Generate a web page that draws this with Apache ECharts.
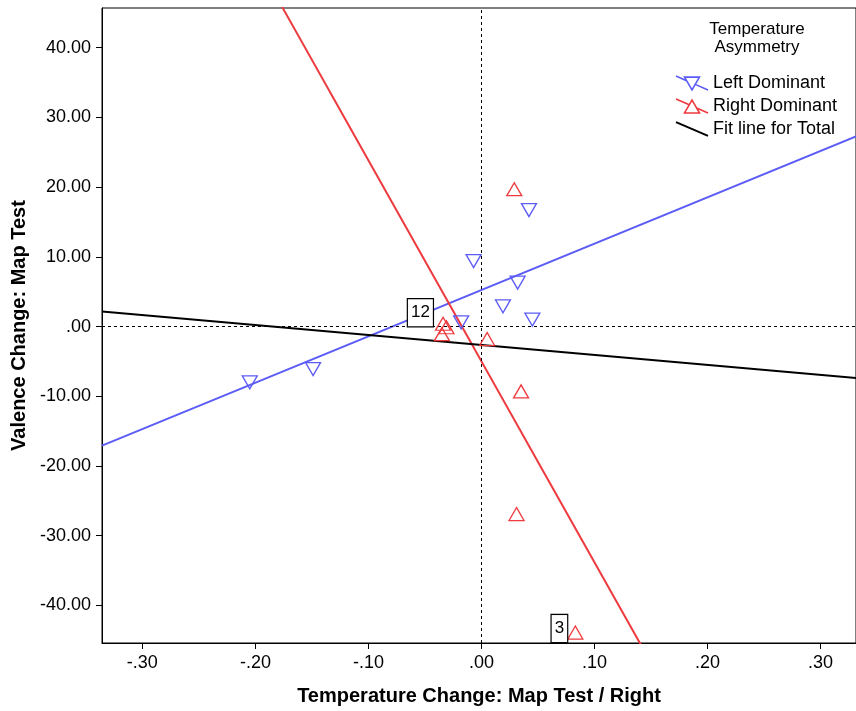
<!DOCTYPE html>
<html>
<head>
<meta charset="utf-8">
<script src="https://cdn.jsdelivr.net/npm/echarts@6/dist/echarts.min.js"></script>
<style>html,body{margin:0;padding:0;background:#fff;}#chart{width:856px;height:711px;}</style>
</head>
<body>
<div id="chart"></div>
<script>
// ---- data ----
const xTicks = [-0.3, -0.2, -0.1, 0, 0.1, 0.2, 0.3];
const yTicks = [-40, -30, -20, -10, 0, 10, 20, 30, 40];
const seriesNames = ['Left Dominant', 'Right Dominant', 'Fit line for Total'];
const legendTitle = 'Temperature\nAsymmetry';
const xTitle = 'Temperature Change: Map Test / Right';
const yTitle = 'Valence Change: Map Test';

const leftX = [-0.205, -0.149, -0.007, 0.042, 0.032, 0.019, 0.045, -0.018];
const leftY = [-8.0, -6.1, 9.4, 16.7, 6.3, 2.9, 1.0, 0.6];

const rightX = [0.029, -0.034, -0.031, -0.035, 0.005, 0.035, 0.031, 0.083];
const rightY = [19.7, 0.4, -0.1, -1.1, -1.8, -9.3, -26.9, -43.9];
const rightCaseLabels = ['', '12', '', '', '', '', '', '3'];

// fit lines: intercept, slope (Left, Right, Total)
const fitIntercepts = [5.25, -5.0, -2.65];
const fitSlopes = [66.5, -288.4, -14.3];

// ---- layout / style ----
const X_MIN = -0.3357, X_MAX = 0.3313;
const Y_MIN = -45.4, Y_MAX = 45.7;
const BLUE = '#5c5cf6';
const RED = '#ee3a3e';
const FONT = 'Liberation Sans, Arial, sans-serif';
const labelOffsets = { '12': [0, -11], '3': [2, -4] };

function fmt(v) {
  let s = Math.abs(v).toFixed(2);
  if (s.startsWith('0.')) s = s.slice(1);
  return (v < 0 ? '-' : '') + s;
}
function fitData(i) {
  return [X_MIN, X_MAX].map(x => [x, fitIntercepts[i] + fitSlopes[i] * x]);
}
function pts(xs, ys) { return xs.map((x, i) => [x, ys[i]]); }

const rightData = rightX.map((x, i) => {
  const lab = rightCaseLabels[i];
  if (!lab) return [x, rightY[i]];
  return {
    value: [x, rightY[i]],
    label: {
      show: true, formatter: lab, position: 'left', distance: 2,
      offset: labelOffsets[lab] || [0, 0],
      color: '#000', fontFamily: FONT, fontSize: 17, lineHeight: 20,
      backgroundColor: '#fff', borderColor: '#000', borderWidth: 1.2,
      padding: [4, 3, 3, 3]
    }
  };
});

const iconLeft = 'path://M0,0 L9.9,4.3 M18,7.8 L30,13 M8,1 L22,1 L15,13 Z';
const iconRight = 'path://M0,0 L12.4,5.4 M19.3,8.4 L30,13 M8,13 L22,13 L15,1 Z';
const iconLine = 'path://M0,0 L30,13';

const chart = echarts.init(document.getElementById('chart'), null, { renderer: 'canvas' });
chart.setOption({
  animation: false,
  backgroundColor: '#fff',
  textStyle: { fontFamily: FONT },
  grid: {
    left: 102, right: -2, top: 8, bottom: 66,
    show: true, borderColor: '#000', borderWidth: 1, backgroundColor: 'transparent'
  },
  graphic: [{
    type: 'text', x: 757, y: 20,
    style: {
      text: legendTitle, fontSize: 17, lineHeight: 18,
      fontFamily: FONT, fill: '#000', align: 'center', verticalAlign: 'top'
    }
  }],
  legend: {
    orient: 'vertical', left: 675, top: 74, padding: 0,
    itemWidth: 32, itemHeight: 14, itemGap: 5, itemTextGap: 7,
    textStyle: { fontSize: 18, color: '#000', fontFamily: FONT },
    itemStyle: { borderWidth: 1.6 },
    selectedMode: false,
    data: [
      { name: seriesNames[0], icon: iconLeft },
      { name: seriesNames[1], icon: iconRight },
      { name: seriesNames[2], icon: iconLine, itemStyle: { color: '#000', borderColor: '#000', borderWidth: 2 } }
    ]
  },
  xAxis: {
    type: 'value', min: X_MIN, max: X_MAX,
    name: xTitle, nameLocation: 'middle', nameGap: 43,
    nameTextStyle: { fontSize: 20, fontWeight: 'bold', color: '#000', fontFamily: FONT },
    axisLine: { onZero: false, lineStyle: { color: '#000', width: 1 } },
    axisTick: { show: true, length: 6, customValues: xTicks, lineStyle: { color: '#000' } },
    axisLabel: { customValues: xTicks, formatter: fmt, fontSize: 18, color: '#000', margin: 11, fontFamily: FONT },
    splitLine: { show: false }
  },
  yAxis: {
    type: 'value', min: Y_MIN, max: Y_MAX,
    name: yTitle, nameLocation: 'middle', nameGap: 62,
    nameTextStyle: { fontSize: 20, fontWeight: 'bold', color: '#000', fontFamily: FONT },
    axisLine: { onZero: false, lineStyle: { color: '#000', width: 1 } },
    axisTick: { show: true, length: 6, customValues: yTicks, lineStyle: { color: '#000' } },
    axisLabel: { customValues: yTicks, formatter: fmt, fontSize: 18, color: '#000', margin: 11, fontFamily: FONT },
    splitLine: { show: false }
  },
  series: [
    {
      name: seriesNames[0], type: 'scatter', data: pts(leftX, leftY),
      symbol: 'triangle', symbolRotate: 180, symbolSize: [15, 13], z: 5,
      itemStyle: { color: 'rgba(255,255,255,0)', borderColor: BLUE, borderWidth: 1.3, opacity: 1 }
    },
    {
      name: seriesNames[1], type: 'scatter', data: rightData,
      symbol: 'triangle', symbolSize: [15, 13], z: 5,
      itemStyle: { color: 'rgba(255,255,255,0)', borderColor: RED, borderWidth: 1.3, opacity: 1 }
    },
    {
      name: seriesNames[0], type: 'line', data: fitData(0), showSymbol: false, symbol: 'none',
      clip: true, z: 3, lineStyle: { color: BLUE, width: 2 }, itemStyle: { color: BLUE }
    },
    {
      name: seriesNames[1], type: 'line', data: fitData(1), showSymbol: false, symbol: 'none',
      clip: true, z: 3, lineStyle: { color: RED, width: 2 }, itemStyle: { color: RED }
    },
    {
      name: seriesNames[2], type: 'line', data: fitData(2), showSymbol: false, symbol: 'none',
      clip: true, z: 3, lineStyle: { color: '#000', width: 2 }, itemStyle: { color: '#000' },
      markLine: {
        silent: true, symbol: ['none', 'none'], animation: false,
        label: { show: false },
        lineStyle: { color: '#000', type: [3, 3], width: 1 },
        data: [{ xAxis: 0 }, { yAxis: 0 }]
      }
    }
  ]
});
</script>
</body>
</html>
